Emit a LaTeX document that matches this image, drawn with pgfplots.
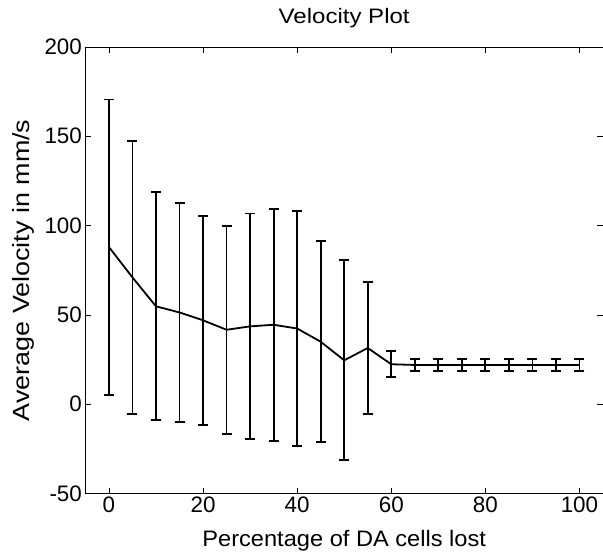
\documentclass[border=0pt]{standalone}
\usepackage{fontspec}
\setmainfont{Liberation Sans}
\newfontfamily\xlabfont[FakeStretch=1.055]{Liberation Sans}
\newfontfamily\ylabfont[FakeStretch=1.15]{Liberation Sans}
\newfontfamily\titfont[FakeStretch=1.15]{Liberation Sans}
\usepackage{pgfplots}
\pgfplotsset{compat=1.18}
\pgfplotstableread{
x y e
0 88.0 82.6
5 71.0 76.3
10 54.8 63.8
15 51.4 61.3
20 47.0 58.5
25 41.7 58.3
30 43.6 63.2
35 44.5 65.0
40 42.4 65.8
45 35.0 56.3
50 24.6 56.0
55 31.5 36.8
60 22.4 7.2
65 22.0 3.5
70 22.0 3.5
75 22.0 3.5
80 22.0 3.5
85 22.0 3.5
90 22.0 3.5
95 22.0 3.5
100 22.0 3.5
}\vel
\begin{document}
\begin{tikzpicture}
\begin{axis}[
  scale only axis, width=518bp, height=447bp,
  xmin=-5, xmax=105, ymin=-50, ymax=200,
  xtick={0,20,...,100}, ytick={-50,0,...,200},
  tick pos=both, tick align=inside, major tick length=6bp,
  axis line style={line width=0.8bp},
  tick style={line width=0.8bp, black},
  ticklabel style={font=\fontsize{22.5}{24}\selectfont},
  /pgf/number format/assume math mode=true,
  xlabel={Percentage of DA cells lost},
  ylabel={Average Velocity in mm/s},
  xlabel style={font=\xlabfont\fontsize{22.5}{24}\selectfont,
    at={(axis description cs:0.5,0)}, anchor=base, yshift=-53bp, inner sep=0pt},
  ylabel style={font=\ylabfont\fontsize{23.5}{24}\selectfont,
    at={([xshift=-55.5bp]axis description cs:0,0.5)}, anchor=base, rotate=0, inner sep=0pt},
  title={Velocity Plot},
  title style={font=\titfont\fontsize{21}{24}\selectfont,
    at={(axis description cs:0.5,1)}, anchor=base, yshift=17bp, inner sep=0pt},
]
\addplot[black, line width=1.8bp, mark=none,
  error bars/.cd, y dir=both, y explicit,
  error bar style={line width=1.8bp, black},
  error mark options={rotate=90, line width=1.8bp, black, mark size=5bp}]
  table[x=x, y=y, y error=e] {\vel};
\coordinate (sw) at (rel axis cs:0,0);
\coordinate (ne) at (rel axis cs:1,1);
\end{axis}
\pgfresetboundingbox
\path[use as bounding box] ([xshift=-85.5bp, yshift=-62bp]sw) rectangle ([yshift=47bp]ne);
\end{tikzpicture}
\end{document}
